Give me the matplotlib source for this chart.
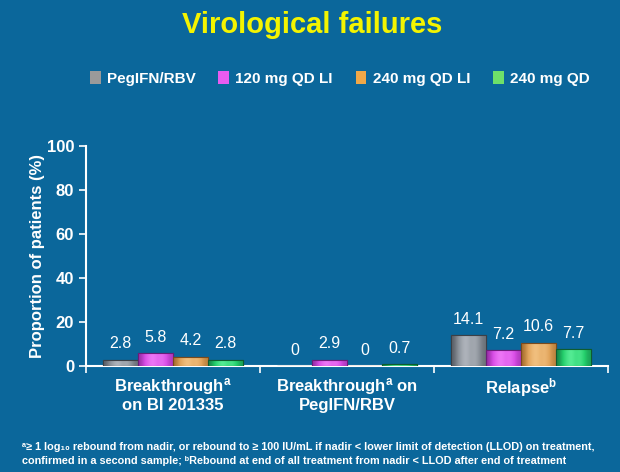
import numpy as np
import matplotlib.pyplot as plt
from matplotlib.patches import Patch
from matplotlib.colors import LinearSegmentedColormap

plt.rcParams["font.family"] = ["Liberation Sans", "DejaVu Sans"]
plt.rcParams["mathtext.fontset"] = "custom"
plt.rcParams["mathtext.rm"] = "Liberation Sans:bold"
plt.rcParams["mathtext.bf"] = "Liberation Sans:bold"
plt.rcParams["mathtext.it"] = "Liberation Sans:bold"

categories = [
    "Breakthrough$^{a}$\non BI 201335",
    "Breakthrough$^{a}$ on\nPegIFN/RBV",
    "Relapse$^{b}$",
]
series = ["PegIFN/RBV", "120 mg QD LI", "240 mg QD LI", "240 mg QD"]
values = [
    [2.8, 0, 14.1],
    [5.8, 2.9, 7.2],
    [4.2, 0, 10.6],
    [2.8, 0.7, 7.7],
]
labels = [
    ["2.8", "0", "14.1"],
    ["5.8", "2.9", "7.2"],
    ["4.2", "0", "10.6"],
    ["2.8", "0.7", "7.7"],
]
colors = ["#8a9098", "#d94ee6", "#e0a35a", "#25cf6c"]
darks = ["#5a5f66", "#9a2ea8", "#a8702f", "#14894a"]
lights = ["#b4b9c0", "#f07cf8", "#f4c484", "#5cf09a"]
edges = ["#3c4046", "#6a1d78", "#7a4a1c", "#0e5c30"]
legend_colors = ["#9a9a9a", "#e85cf0", "#f0a848", "#6ee06a"]

bg = "#0b679b"
fig = plt.figure(figsize=(6.2, 4.72), dpi=100, facecolor=bg)
ax = fig.add_axes([0.1387, 0.2246, 0.842, 0.466], facecolor=bg)

x = np.arange(len(categories))
w = 0.2
grad = np.array([[0.0, 0.45, 0.8, 1.0, 0.7, 0.85, 0.5, 0.2]])
for i, s in enumerate(series):
    pos = x + (i - 1.5) * w
    bars = ax.bar(pos, values[i], w, color=colors[i], edgecolor=edges[i], linewidth=0.8, zorder=3)
    cmap = LinearSegmentedColormap.from_list(f"c{i}", [darks[i], colors[i], lights[i]])
    for b in bars:
        if b.get_height() <= 0:
            continue
        bx, by = b.get_x(), b.get_y()
        im = ax.imshow(grad, cmap=cmap, vmin=0, vmax=1, aspect="auto", interpolation="bicubic",
                       extent=[bx, bx + b.get_width(), by, by + b.get_height()], zorder=3.5)
        im.set_clip_path(b)
    ax.bar(pos, values[i], w, color="none", edgecolor=edges[i], linewidth=0.8, zorder=4)
    for p, v, t in zip(pos, values[i], labels[i]):
        ax.annotate(t, (p, v), xytext=(0, 6), textcoords="offset points",
                    ha="center", va="bottom", color="white", fontsize=11.5)

ax.set_xlim(-0.5, 2.5)
ax.set_ylim(0, 100)
ax.set_yticks([0, 20, 40, 60, 80, 100])
ax.tick_params(axis="y", colors="white", labelsize=12, length=5, width=1.2)
for lab in ax.get_yticklabels():
    lab.set_fontweight("bold")
ax.set_xticks([-0.5, 0.5, 1.5, 2.5])
ax.set_xticklabels([])
ax.tick_params(axis="x", colors="white", length=5, width=1.2, direction="out")
ax.set_xticks(x, minor=True)
ax.set_xticklabels(categories, minor=True, color="white", fontsize=12, fontweight="bold",
                   linespacing=1.1)
ax.tick_params(axis="x", which="minor", length=0, pad=7)
for sp in ["top", "right"]:
    ax.spines[sp].set_visible(False)
for sp in ["left", "bottom"]:
    ax.spines[sp].set_color("white")
    ax.spines[sp].set_linewidth(1.5)
ax.set_ylabel("Proportion of patients (%)", color="white", fontsize=12,
              fontweight="bold", labelpad=1)

fig.text(0.503, 0.947, "Virological failures", ha="center", va="center",
         color="#f4f400", fontsize=21, fontweight="bold")

handles = [Patch(facecolor=c, edgecolor="none") for c in legend_colors]
leg = fig.legend(handles, series, loc="center", bbox_to_anchor=(0.548, 0.834), ncol=4,
                 frameon=False, handlelength=0.7, handleheight=1.0, handletextpad=0.4,
                 columnspacing=1.5, fontsize=11)
for t in leg.get_texts():
    t.set_color("white")
    t.set_fontweight("bold")

foot1 = ("\u1d43\u2265 1 log\u2081\u2080 rebound from nadir, or rebound to \u2265 100 IU/mL if nadir < lower limit "
         "of detection (LLOD) on treatment,")
foot2 = ("confirmed in a second sample; \u1d47Rebound at end of all "
         "treatment from nadir < LLOD after end of treatment")
fig.text(0.035, 1 - 446.5 / 472, foot1, ha="left", va="center", color="white", fontsize=7.8,
         fontweight="bold")
fig.text(0.035, 1 - 460.5 / 472, foot2, ha="left", va="center", color="white", fontsize=7.8,
         fontweight="bold")

fig.savefig("out.png", dpi=100, facecolor=bg)
